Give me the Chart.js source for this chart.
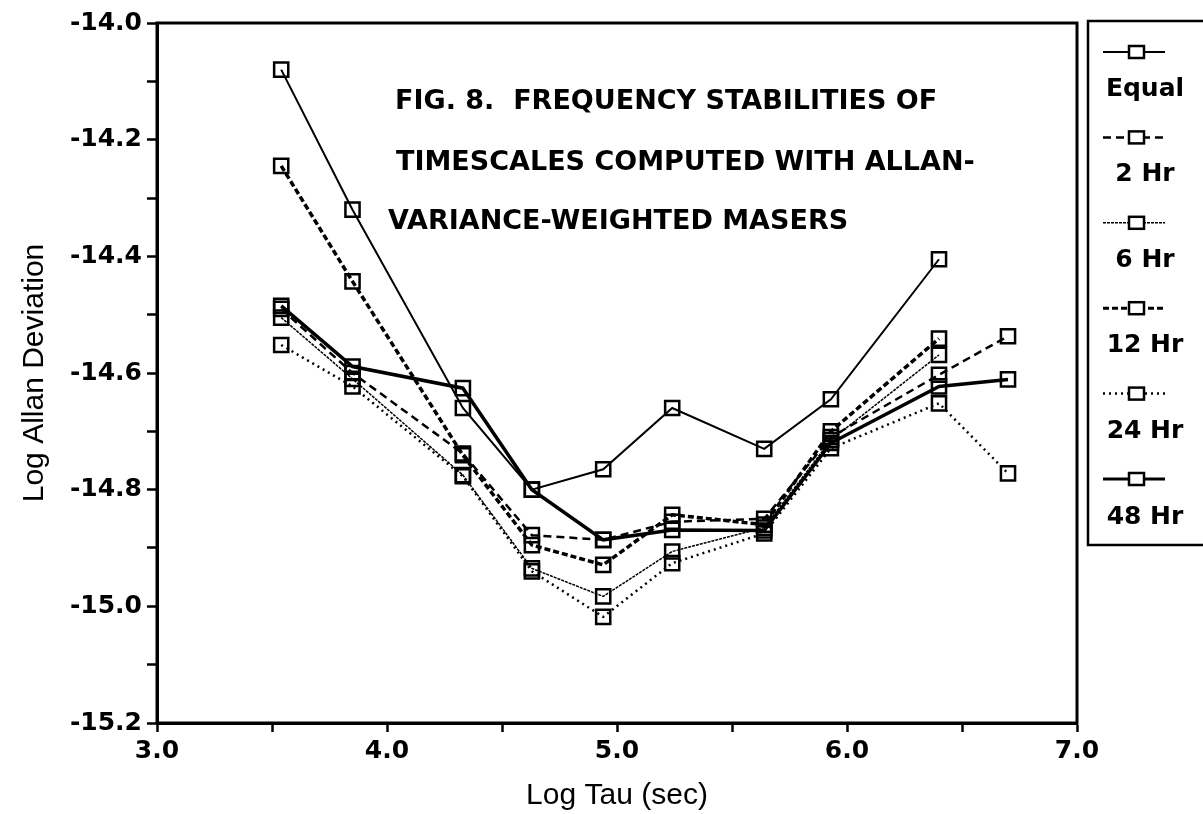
<!DOCTYPE html>
<html>
<head>
<meta charset="utf-8">
<script src="https://cdn.jsdelivr.net/npm/chart.js@4/dist/chart.umd.min.js"></script>
<style>
  html, body { margin: 0; padding: 0; background: #fff; }
  #wrap { width: 1203px; height: 814px; }
</style>
</head>
<body>
<div id="wrap"><canvas id="allanChart" width="1203" height="814"></canvas></div>
<script>
// Log tau (sec) positions of the measured points
const logTau = [3.54, 3.85, 4.33, 4.63, 4.94, 5.24, 5.64, 5.93, 6.40, 6.70];

// Log Allan deviation per weighting scheme (null = no point)
const equalW = [-14.08, -14.32, -14.66, -14.80, -14.765, -14.66, -14.73, -14.645, -14.405, null];
const hr2 = [-14.49, -14.60, -14.738, -14.878, -14.886, -14.855, -14.85, -14.71, -14.603, -14.537];
const hr6 = [-14.505, -14.61, -14.775, -14.935, -14.983, -14.906, -14.865, -14.715, -14.569, null];
const hr12 = [-14.245, -14.443, -14.741, -14.895, -14.929, -14.843, -14.86, -14.70, -14.541, null];
const hr24 = [-14.552, -14.623, -14.777, -14.94, -15.018, -14.926, -14.875, -14.729, -14.652, -14.772];
const hr48 = [-14.485, -14.589, -14.626, -14.80, -14.886, -14.869, -14.87, -14.72, -14.623, -14.611];

const seriesLabels = ['Equal', '2 Hr', '6 Hr', '12 Hr', '24 Hr', '48 Hr'];
const titleLines = [
  'FIG. 8.  FREQUENCY STABILITIES OF',
  'TIMESCALES COMPUTED WITH ALLAN-',
  'VARIANCE-WEIGHTED MASERS'
];

const BOLD_FONT = '"DejaVu Sans", sans-serif';
const AXIS_FONT = '"Liberation Sans", Arial, sans-serif';

const toPoints = (vals) => logTau.map((x, i) => ({ x, y: vals[i] }));

const makeSet = (label, vals, width, dash) => ({
  label,
  data: toPoints(vals),
  borderColor: '#000',
  borderWidth: width,
  borderDash: dash,
  fill: false,
  tension: 0,
  pointStyle: 'rect',
  pointRadius: 10,
  pointHoverRadius: 10,
  pointBorderWidth: 2.5,
  pointBorderColor: '#000',
  pointBackgroundColor: 'rgba(255,255,255,0)'
});

// Frame around the plot area plus the figure caption
const framePlugin = {
  id: 'frame',
  afterDraw(chart) {
    const { ctx, chartArea: a } = chart;
    ctx.save();
    ctx.strokeStyle = '#000';
    ctx.lineWidth = 3;
    ctx.strokeRect(a.left, a.top, a.right - a.left, a.bottom - a.top);

    ctx.fillStyle = '#000';
    ctx.font = 'bold 27px ' + BOLD_FONT;
    ctx.textBaseline = 'middle';
    ctx.textAlign = 'left';
    ctx.fillText(titleLines[0], 395, 102);
    ctx.fillText(titleLines[1], 396, 163);
    ctx.fillText(titleLines[2], 388, 222);
    ctx.restore();
  }
};

// Legend box on the right: line sample above each label
const legendPlugin = {
  id: 'sideLegend',
  afterDraw(chart) {
    const { ctx } = chart;
    ctx.save();
    ctx.strokeStyle = '#000';
    ctx.lineWidth = 2.5;
    ctx.beginPath();
    ctx.moveTo(1210, 21);
    ctx.lineTo(1088, 21);
    ctx.lineTo(1088, 545);
    ctx.lineTo(1210, 545);
    ctx.stroke();

    chart.data.datasets.forEach((ds, i) => {
      const sy = 52 + 85.4 * i;
      const ty = 89 + 85.6 * i;
      ctx.lineWidth = Math.min(ds.borderWidth, 3);
      ctx.setLineDash(ds.borderDash || []);
      ctx.beginPath();
      ctx.moveTo(1103, sy);
      ctx.lineTo(1165, sy);
      ctx.stroke();
      ctx.setLineDash([]);
      ctx.lineWidth = 2.5;
      ctx.fillStyle = '#fff';
      ctx.fillRect(1129, sy - 6, 15, 12);
      ctx.strokeRect(1129, sy - 6, 15, 12);
      ctx.fillStyle = '#000';
      ctx.font = 'bold 25px ' + BOLD_FONT;
      ctx.textAlign = 'center';
      ctx.textBaseline = 'middle';
      ctx.fillText(ds.label, 1145, ty);
    });
    ctx.restore();
  }
};

new Chart(document.getElementById('allanChart'), {
  type: 'line',
  data: {
    datasets: [
      makeSet(seriesLabels[0], equalW, 2, []),
      makeSet(seriesLabels[1], hr2, 2.5, [8, 5]),
      makeSet(seriesLabels[2], hr6, 1.5, [3, 1]),
      makeSet(seriesLabels[3], hr12, 3.5, [6, 3]),
      makeSet(seriesLabels[4], hr24, 2.5, [2, 4]),
      makeSet(seriesLabels[5], hr48, 3.5, [])
    ]
  },
  options: {
    responsive: false,
    animation: false,
    events: [],
    layout: { padding: { left: 0, top: 23, right: 126, bottom: 0 } },
    plugins: {
      legend: { display: false },
      tooltip: { enabled: false }
    },
    scales: {
      x: {
        type: 'linear',
        min: 3.0,
        max: 7.0,
        afterFit: (scale) => { scale.height = 91; },
        ticks: {
          stepSize: 0.5,
          color: '#000',
          padding: 4,
          maxRotation: 0,
          autoSkip: false,
          font: { family: BOLD_FONT, size: 25, weight: 'bold' },
          callback: (v) => (Math.abs(v - Math.round(v)) < 1e-6 ? v.toFixed(1) : '')
        },
        grid: {
          drawOnChartArea: false,
          drawTicks: true,
          tickLength: 9,
          tickWidth: 2.5,
          tickColor: '#000'
        },
        border: { display: true, color: '#000', width: 3 },
        title: {
          display: true,
          text: 'Log Tau (sec)',
          color: '#000',
          padding: { top: 0, bottom: 0 },
          font: { family: AXIS_FONT, size: 30 }
        }
      },
      y: {
        type: 'linear',
        min: -15.2,
        max: -14.0,
        afterFit: (scale) => { scale.width = 157; },
        ticks: {
          stepSize: 0.1,
          color: '#000',
          padding: 5,
          autoSkip: false,
          font: { family: BOLD_FONT, size: 25, weight: 'bold' },
          callback: (v) => {
            const n = Math.round(v * 10);
            return n % 2 === 0 ? v.toFixed(1) : '';
          }
        },
        grid: {
          drawOnChartArea: false,
          drawTicks: true,
          tickLength: 10,
          tickWidth: 2.5,
          tickColor: '#000'
        },
        border: { display: true, color: '#000', width: 3 },
        title: {
          display: true,
          text: 'Log Allan Deviation',
          color: '#000',
          padding: { top: 17, bottom: 0 },
          font: { family: AXIS_FONT, size: 30 }
        }
      }
    }
  },
  plugins: [framePlugin, legendPlugin]
});
</script>
</body>
</html>
